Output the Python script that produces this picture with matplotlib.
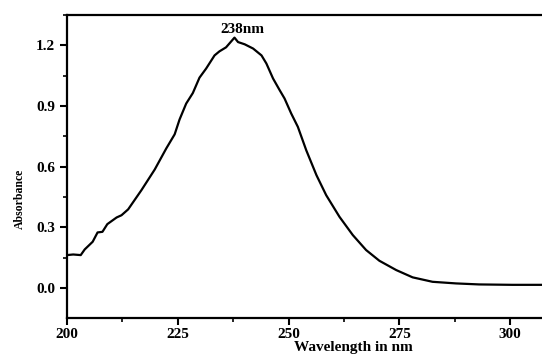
import matplotlib
matplotlib.use("Agg")
import matplotlib.pyplot as plt
from matplotlib.ticker import MultipleLocator

# UV spectrum
wavelength = [200.0, 201.4, 203.1, 204.0, 205.8, 206.9, 208.0, 209.1, 211.2, 212.3,
              213.8, 216.8, 219.8, 222.4, 224.3, 225.4, 226.9, 228.4, 229.9, 231.4,
              233.3, 234.4, 235.9, 237.8, 238.6, 240.1, 242.0, 243.9, 245.0, 246.5,
              248.0, 249.1, 250.6, 252.1, 254.0, 256.3, 258.5, 261.5, 264.5, 267.5,
              270.5, 274.3, 278.0, 282.5, 287.8, 293.0, 300.5, 308.0]
absorbance = [0.163, 0.166, 0.163, 0.191, 0.229, 0.275, 0.278, 0.316, 0.349, 0.360,
              0.389, 0.484, 0.586, 0.690, 0.760, 0.833, 0.912, 0.964, 1.040, 1.085,
              1.150, 1.170, 1.190, 1.238, 1.216, 1.205, 1.184, 1.150, 1.110, 1.036,
              0.978, 0.937, 0.863, 0.797, 0.681, 0.558, 0.459, 0.352, 0.262, 0.188,
              0.135, 0.089, 0.053, 0.031, 0.023, 0.018, 0.016, 0.016]

peak_label = "238nm"

plt.rcParams["font.family"] = ["Liberation Serif", "DejaVu Serif"]
plt.rcParams["font.weight"] = "bold"

fig = plt.figure(figsize=(5.42, 3.56), dpi=100)
ax = fig.add_axes([0.1236, 0.1067, 0.8764, 0.8513])

ax.plot(wavelength, absorbance, color="black", linewidth=1.6)
ax.text(239.5, 1.28, peak_label, ha="center", va="center", fontsize=11, fontweight="bold")

ax.set_xlim(200, 307.2)
ax.set_ylim(-0.148, 1.35)
ax.xaxis.set_major_locator(MultipleLocator(25))
ax.xaxis.set_minor_locator(MultipleLocator(12.5))
ax.yaxis.set_major_locator(MultipleLocator(0.3))
ax.yaxis.set_minor_locator(MultipleLocator(0.15))
ax.yaxis.set_major_formatter(plt.FormatStrFormatter("%.1f"))

ax.tick_params(which="major", direction="out", length=5, width=1.5, labelsize=11)
ax.tick_params(which="minor", direction="out", length=3, width=1.2)
ax.tick_params(axis="x", pad=2.5)
for lab in ax.get_xticklabels() + ax.get_yticklabels():
    lab.set_fontweight("bold")

for side in ["left", "bottom", "top"]:
    ax.spines[side].set_linewidth(1.6)
ax.spines["right"].set_visible(False)

ax.set_xlabel("Wavelength in nm", fontsize=11, fontweight="bold", va="center")
ax.set_ylabel("Absorbance", fontsize=8.5, fontweight="bold", va="center")
ax.xaxis.set_label_coords(0.602, -0.096)
ax.yaxis.set_label_coords(-0.099, 0.393)

fig.savefig("out.png", dpi=100)
